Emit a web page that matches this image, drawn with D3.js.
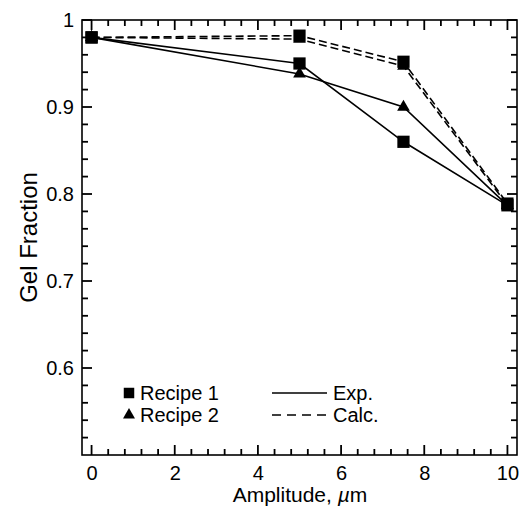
<!DOCTYPE html>
<html>
<head>
<meta charset="utf-8">
<script src="https://cdn.jsdelivr.net/npm/d3@7"></script>
<style>
  html, body { margin: 0; padding: 0; background: #fff; }
  svg { display: block; font-family: "Liberation Sans", Arial, Helvetica, sans-serif; }
</style>
</head>
<body>
<svg id="chart" width="520" height="514"></svg>
<script>
// Ultrasonic amplitude (µm) at which the samples were measured
const amplitude = [0, 5, 7.5, 10];

// Gel fraction, experimental and calculated, for both recipes
const recipe1Exp  = [0.98, 0.950, 0.860, 0.787];
const recipe2Exp  = [0.98, 0.938, 0.900, 0.787];
const recipe1Calc = [0.98, 0.982, 0.952, 0.789];
const recipe2Calc = [0.98, 0.978, 0.947, 0.787];

// Axis ticks
const xMajorTicks = [0, 2, 4, 6, 8, 10];
const yMajorTicks = [0.6, 0.7, 0.8, 0.9, 1];

// Legend entries
const markerLegend = ["Recipe 1", "Recipe 2"];
const lineLegend = ["Exp.", "Calc."];

const svg = d3.select("#chart");
const frame = { left: 82, right: 517, top: 20, bottom: 455 };
const ink = "#000";
const fontSize = 20;
const majorLen = 10, minorLen = 6;

const x = d3.scaleLinear().domain([-0.23, 10.23]).range([frame.left, frame.right]);
const y = d3.scaleLinear().domain([0.5, 1.0]).range([frame.bottom, frame.top]);

const near = (a, b) => Math.abs(a - b) < 1e-6;
const xMinor = d3.range(0, 10.001, 0.4).filter(v => !xMajorTicks.some(m => near(m, v)));
const yMinor = d3.range(0.52, 0.999, 0.02).filter(v => !yMajorTicks.some(m => near(m, v)));

// Inward tick marks on all four sides
const tickLayer = svg.append("g").attr("stroke", ink).attr("stroke-width", 1.8);
const xTickData = xMajorTicks.map(v => ({ v, len: majorLen })).concat(xMinor.map(v => ({ v, len: minorLen })));
const yTickData = yMajorTicks.map(v => ({ v, len: majorLen })).concat(yMinor.map(v => ({ v, len: minorLen })));

tickLayer.selectAll("line.xb").data(xTickData).join("line").attr("class", "xb")
  .attr("x1", d => x(d.v)).attr("x2", d => x(d.v))
  .attr("y1", frame.bottom).attr("y2", d => frame.bottom - d.len);
tickLayer.selectAll("line.xt").data(xTickData).join("line").attr("class", "xt")
  .attr("x1", d => x(d.v)).attr("x2", d => x(d.v))
  .attr("y1", frame.top).attr("y2", d => frame.top + d.len);
tickLayer.selectAll("line.yl").data(yTickData).join("line").attr("class", "yl")
  .attr("y1", d => y(d.v)).attr("y2", d => y(d.v))
  .attr("x1", frame.left).attr("x2", d => frame.left + d.len);
tickLayer.selectAll("line.yr").data(yTickData).join("line").attr("class", "yr")
  .attr("y1", d => y(d.v)).attr("y2", d => y(d.v))
  .attr("x1", frame.right).attr("x2", d => frame.right - d.len);

// Tick labels through d3 axes (tick lines drawn above)
const xAxis = d3.axisBottom(x).tickValues(xMajorTicks).tickSize(0).tickPadding(11).tickFormat(d3.format("d"));
const yAxis = d3.axisLeft(y).tickValues(yMajorTicks).tickSize(0).tickPadding(8)
  .tickFormat(d => near(d, 1) ? "1" : d3.format(".1f")(d));

[svg.append("g").attr("transform", `translate(0,${frame.bottom})`).call(xAxis),
 svg.append("g").attr("transform", `translate(${frame.left},0)`).call(yAxis)].forEach(g => {
  g.select(".domain").remove();
  g.selectAll("text").attr("font-size", fontSize).attr("fill", ink)
    .attr("font-family", "Liberation Sans, Arial, sans-serif");
});

// Plot frame
svg.append("rect")
  .attr("x", frame.left).attr("y", frame.top)
  .attr("width", frame.right - frame.left).attr("height", frame.bottom - frame.top)
  .attr("fill", "none").attr("stroke", ink).attr("stroke-width", 1.6);

// Axis titles
const xTitle = svg.append("text")
  .attr("x", 300).attr("y", 502)
  .attr("text-anchor", "middle").attr("font-size", 21).attr("fill", ink);
xTitle.append("tspan").text("Amplitude, ");
xTitle.append("tspan").attr("font-style", "italic").text("µ");
xTitle.append("tspan").text("m");

svg.append("text")
  .attr("transform", `translate(37,${(frame.top + frame.bottom) / 2}) rotate(-90)`)
  .attr("text-anchor", "middle").attr("font-size", 24).attr("fill", ink)
  .text("Gel Fraction");

// Series
const series = [
  { values: recipe1Exp,  marker: "square",   dash: null },
  { values: recipe2Exp,  marker: "triangle", dash: null },
  { values: recipe1Calc, marker: "square",   dash: "8,4" },
  { values: recipe2Calc, marker: "triangle", dash: "8,4" }
];

const line = d3.line().x(d => x(d[0])).y(d => y(d[1]));

series.forEach(s => {
  svg.append("path")
    .datum(amplitude.map((a, i) => [a, s.values[i]]))
    .attr("d", line)
    .attr("fill", "none").attr("stroke", ink).attr("stroke-width", 1.6)
    .attr("stroke-dasharray", s.dash);
});

const squareSym = d3.symbol().type(d3.symbolSquare).size(150);
const triSym = d3.symbol().type(d3.symbolTriangle).size(70);

// Triangles first, squares on top
["triangle", "square"].forEach(kind => {
  series.filter(s => s.marker === kind).forEach(s => {
    svg.append("g").selectAll("path")
      .data(amplitude.map((a, i) => [a, s.values[i]]))
      .join("path")
      .attr("transform", d => `translate(${x(d[0])},${y(d[1])})`)
      .attr("d", kind === "square" ? squareSym : triSym)
      .attr("fill", ink);
  });
});

// Legend
const legendY = [393, 415];
const legend = svg.append("g");
markerLegend.forEach((label, i) => {
  legend.append("path")
    .attr("transform", `translate(129,${legendY[i]})`)
    .attr("d", i === 0 ? d3.symbol().type(d3.symbolSquare).size(110)() : d3.symbol().type(d3.symbolTriangle).size(62)())
    .attr("fill", ink);
  legend.append("text")
    .attr("x", 140).attr("y", legendY[i]).attr("dy", "0.35em")
    .attr("font-size", fontSize).attr("fill", ink).text(label);
});
lineLegend.forEach((label, i) => {
  legend.append("line")
    .attr("x1", 272).attr("x2", 327).attr("y1", legendY[i]).attr("y2", legendY[i])
    .attr("stroke", ink).attr("stroke-width", 1.6)
    .attr("stroke-dasharray", i === 0 ? null : "9,6");
  legend.append("text")
    .attr("x", 333).attr("y", legendY[i]).attr("dy", "0.35em")
    .attr("font-size", fontSize).attr("fill", ink).text(label);
});
</script>
</body>
</html>
